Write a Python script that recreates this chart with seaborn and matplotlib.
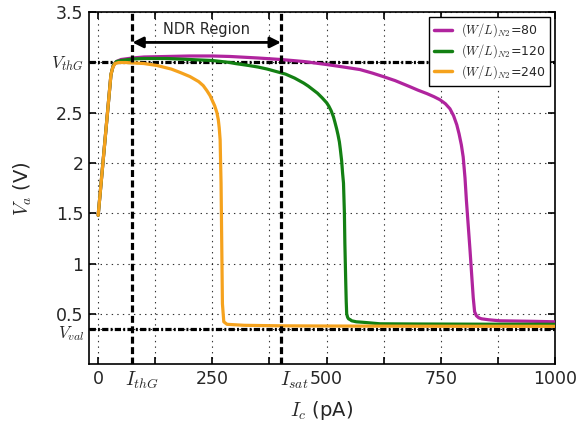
import numpy as np
import pandas as pd
import seaborn as sns
import matplotlib
matplotlib.use("Agg")
import matplotlib.pyplot as plt
import matplotlib.transforms as mtransforms

# ---- data ----
x_80 = [0, 10, 20, 28, 33, 40, 50, 75, 100, 150, 200, 250, 289, 350, 400, 450, 500,
        530, 573, 600, 624, 650, 682, 700, 720, 735, 748, 760, 770, 778, 785, 790,
        795, 799, 803, 806, 810, 814, 818, 821, 824, 828, 833, 839, 855, 879, 950, 1000]
y_80 = [1.48, 1.98, 2.48, 2.88, 2.97, 3.01, 3.03, 3.045, 3.055, 3.06, 3.065, 3.065,
        3.06, 3.045, 3.03, 3.01, 2.98, 2.96, 2.93, 2.895, 2.86, 2.82, 2.76, 2.725,
        2.69, 2.66, 2.63, 2.59, 2.54, 2.47, 2.38, 2.29, 2.18, 2.06, 1.85, 1.63, 1.38,
        1.13, 0.86, 0.66, 0.52, 0.48, 0.46, 0.45, 0.44, 0.43, 0.425, 0.42]

x_120 = [0, 10, 20, 28, 33, 40, 50, 75, 100, 150, 200, 250, 289, 300, 330, 350, 370,
         398, 410, 430, 450, 460, 470, 480, 490, 500, 505, 510, 515, 518, 522, 525,
         528, 530, 533, 535, 537, 539, 540, 541, 542, 543, 544, 546, 548, 552, 555,
         565, 580, 617, 700, 850, 1000]
y_120 = [1.48, 1.98, 2.48, 2.88, 2.97, 3.01, 3.02, 3.035, 3.04, 3.04, 3.03, 3.02,
         3.00, 2.99, 2.97, 2.955, 2.935, 2.90, 2.885, 2.845, 2.795, 2.765, 2.73,
         2.695, 2.65, 2.60, 2.565, 2.52, 2.46, 2.41, 2.34, 2.28, 2.21, 2.14, 2.02,
         1.9, 1.8, 1.5, 1.2, 1.0, 0.8, 0.62, 0.5, 0.465, 0.45, 0.44, 0.43, 0.42,
         0.415, 0.40, 0.398, 0.396, 0.395]

x_240 = [0, 5, 10, 15, 20, 25, 28, 32, 37, 45, 60, 80, 100, 129, 160, 180, 201, 220,
         230, 238, 245, 250, 255, 260, 263, 265, 267, 268, 269, 270, 271, 272, 275,
         282, 320, 400, 500, 700, 1000]
y_240 = [1.48, 1.73, 1.98, 2.23, 2.48, 2.73, 2.88, 2.95, 2.99, 3.00, 3.00, 2.995,
         2.99, 2.97, 2.935, 2.90, 2.86, 2.81, 2.77, 2.72, 2.67, 2.62, 2.57, 2.50, 2.43,
         2.35, 2.23, 2.0, 1.8, 1.4, 1.0, 0.6, 0.42, 0.395, 0.385, 0.38, 0.378, 0.376,
         0.375]

series_labels = [r"$(W/L)_{N2}$=80", r"$(W/L)_{N2}$=120", r"$(W/L)_{N2}$=240"]
colors = ["#b0249e", "#138013", "#f5a21d"]

V_thG = 3.01
V_val = 0.35
I_thG = 75
I_sat = 400

x_ticks = [0, 125, 250, 375, 500, 625, 750, 875, 1000]
x_ticklabels = ["0", "", "250", "", "500", "", "750", "", "1000"]
y_ticks = [0.35, 0.5, 1.0, 1.5, 2.0, 2.5, 3.01, 3.5]
y_ticklabels = ["", "0.5", "1", "1.5", "2", "2.5", r"$V_{thG}$", "3.5"]

# ---- build long-form table ----
frames = []
for xs, ys, lab in zip([x_80, x_120, x_240], [y_80, y_120, y_240], series_labels):
    frames.append(pd.DataFrame({"Ic": xs, "Va": ys, "series": lab}))
df = pd.concat(frames, ignore_index=True)

sns.set_style("ticks")
plt.rcParams["font.family"] = ["DejaVu Sans"]
plt.rcParams["mathtext.fontset"] = "cm"
plt.rcParams["lines.scale_dashes"] = False

fig = plt.figure(figsize=(5.83, 4.29), dpi=100)
ax = fig.add_axes([0.1527, 0.1515, 0.952 - 0.1527, 0.9714 - 0.1515])

sns.lineplot(data=df, x="Ic", y="Va", hue="series", palette=colors,
             hue_order=series_labels, estimator=None, sort=False,
             linewidth=2.3, ax=ax, zorder=3)
for ln in ax.get_lines():
    ln.set_solid_joinstyle("round")

ax.set_xlim(-20, 1000)
ax.set_ylim(0, 3.5)
ax.set_xticks(x_ticks)
ax.set_xticklabels(x_ticklabels, fontsize=12.5)
ax.set_yticks(y_ticks)
ax.set_yticklabels(y_ticklabels, fontsize=12.5)
ax.tick_params(direction="in", top=True, right=True, length=5, width=1.2,
               color="black", pad=4)
ax.grid(True, linestyle=(0, (1, 3)), color="black", linewidth=0.8, alpha=0.8)
for s in ax.spines.values():
    s.set_visible(True)
    s.set_color("black")
    s.set_linewidth(1.2)

# V_val label, placed just under the "0.5" label
trans = mtransforms.blended_transform_factory(ax.transAxes, ax.transData)
trans = trans + mtransforms.ScaledTranslation(-5 / 100, 0, fig.dpi_scale_trans)
ax.text(0, 0.395, r"$V_{val}$", transform=trans, ha="right", va="top",
        fontsize=12, clip_on=False)

# reference lines
dd = (0, (4.5, 1.6, 1.4, 1.6))
ax.axhline(V_thG, color="black", linewidth=2.3, linestyle=dd, zorder=2)
ax.axhline(V_val, color="black", linewidth=2.3, linestyle=dd, zorder=2)
ax.axvline(I_thG, color="black", linewidth=2.3, linestyle=(0, (5, 2.5)), zorder=4)
ax.axvline(I_sat, color="black", linewidth=2.3, linestyle=(0, (5, 2.5)), zorder=4)

# NDR annotation
ax.annotate("", xy=(I_thG, 3.20), xytext=(I_sat, 3.20),
            arrowprops=dict(arrowstyle="<|-|>", color="black", lw=2,
                            mutation_scale=16, shrinkA=0, shrinkB=0))
ax.text((I_thG + I_sat) / 2, 3.33, "NDR Region", ha="center", va="center",
        fontsize=10.5)

# special x labels
ax.text(96, -0.16, r"$I_{thG}$", ha="center", va="center", fontsize=14,
        transform=ax.transData, clip_on=False)
ax.text(429, -0.16, r"$I_{sat}$", ha="center", va="center", fontsize=14,
        transform=ax.transData, clip_on=False)

ax.set_xlabel(r"$I_c$ (pA)", fontsize=14, labelpad=8)
ax.set_ylabel(r"$V_a$ (V)", fontsize=14, labelpad=12)

leg = ax.legend(loc="upper right", fontsize=9, frameon=True, fancybox=False,
                edgecolor="black", framealpha=1, handlelength=1.5,
                borderaxespad=0.4, labelspacing=0.25, borderpad=0.35,
                handletextpad=0.7)
leg.get_frame().set_linewidth(1.0)
for h in leg.get_lines():
    h.set_linewidth(2.5)
leg.set_title(None)

fig.savefig("out.png", dpi=100)
